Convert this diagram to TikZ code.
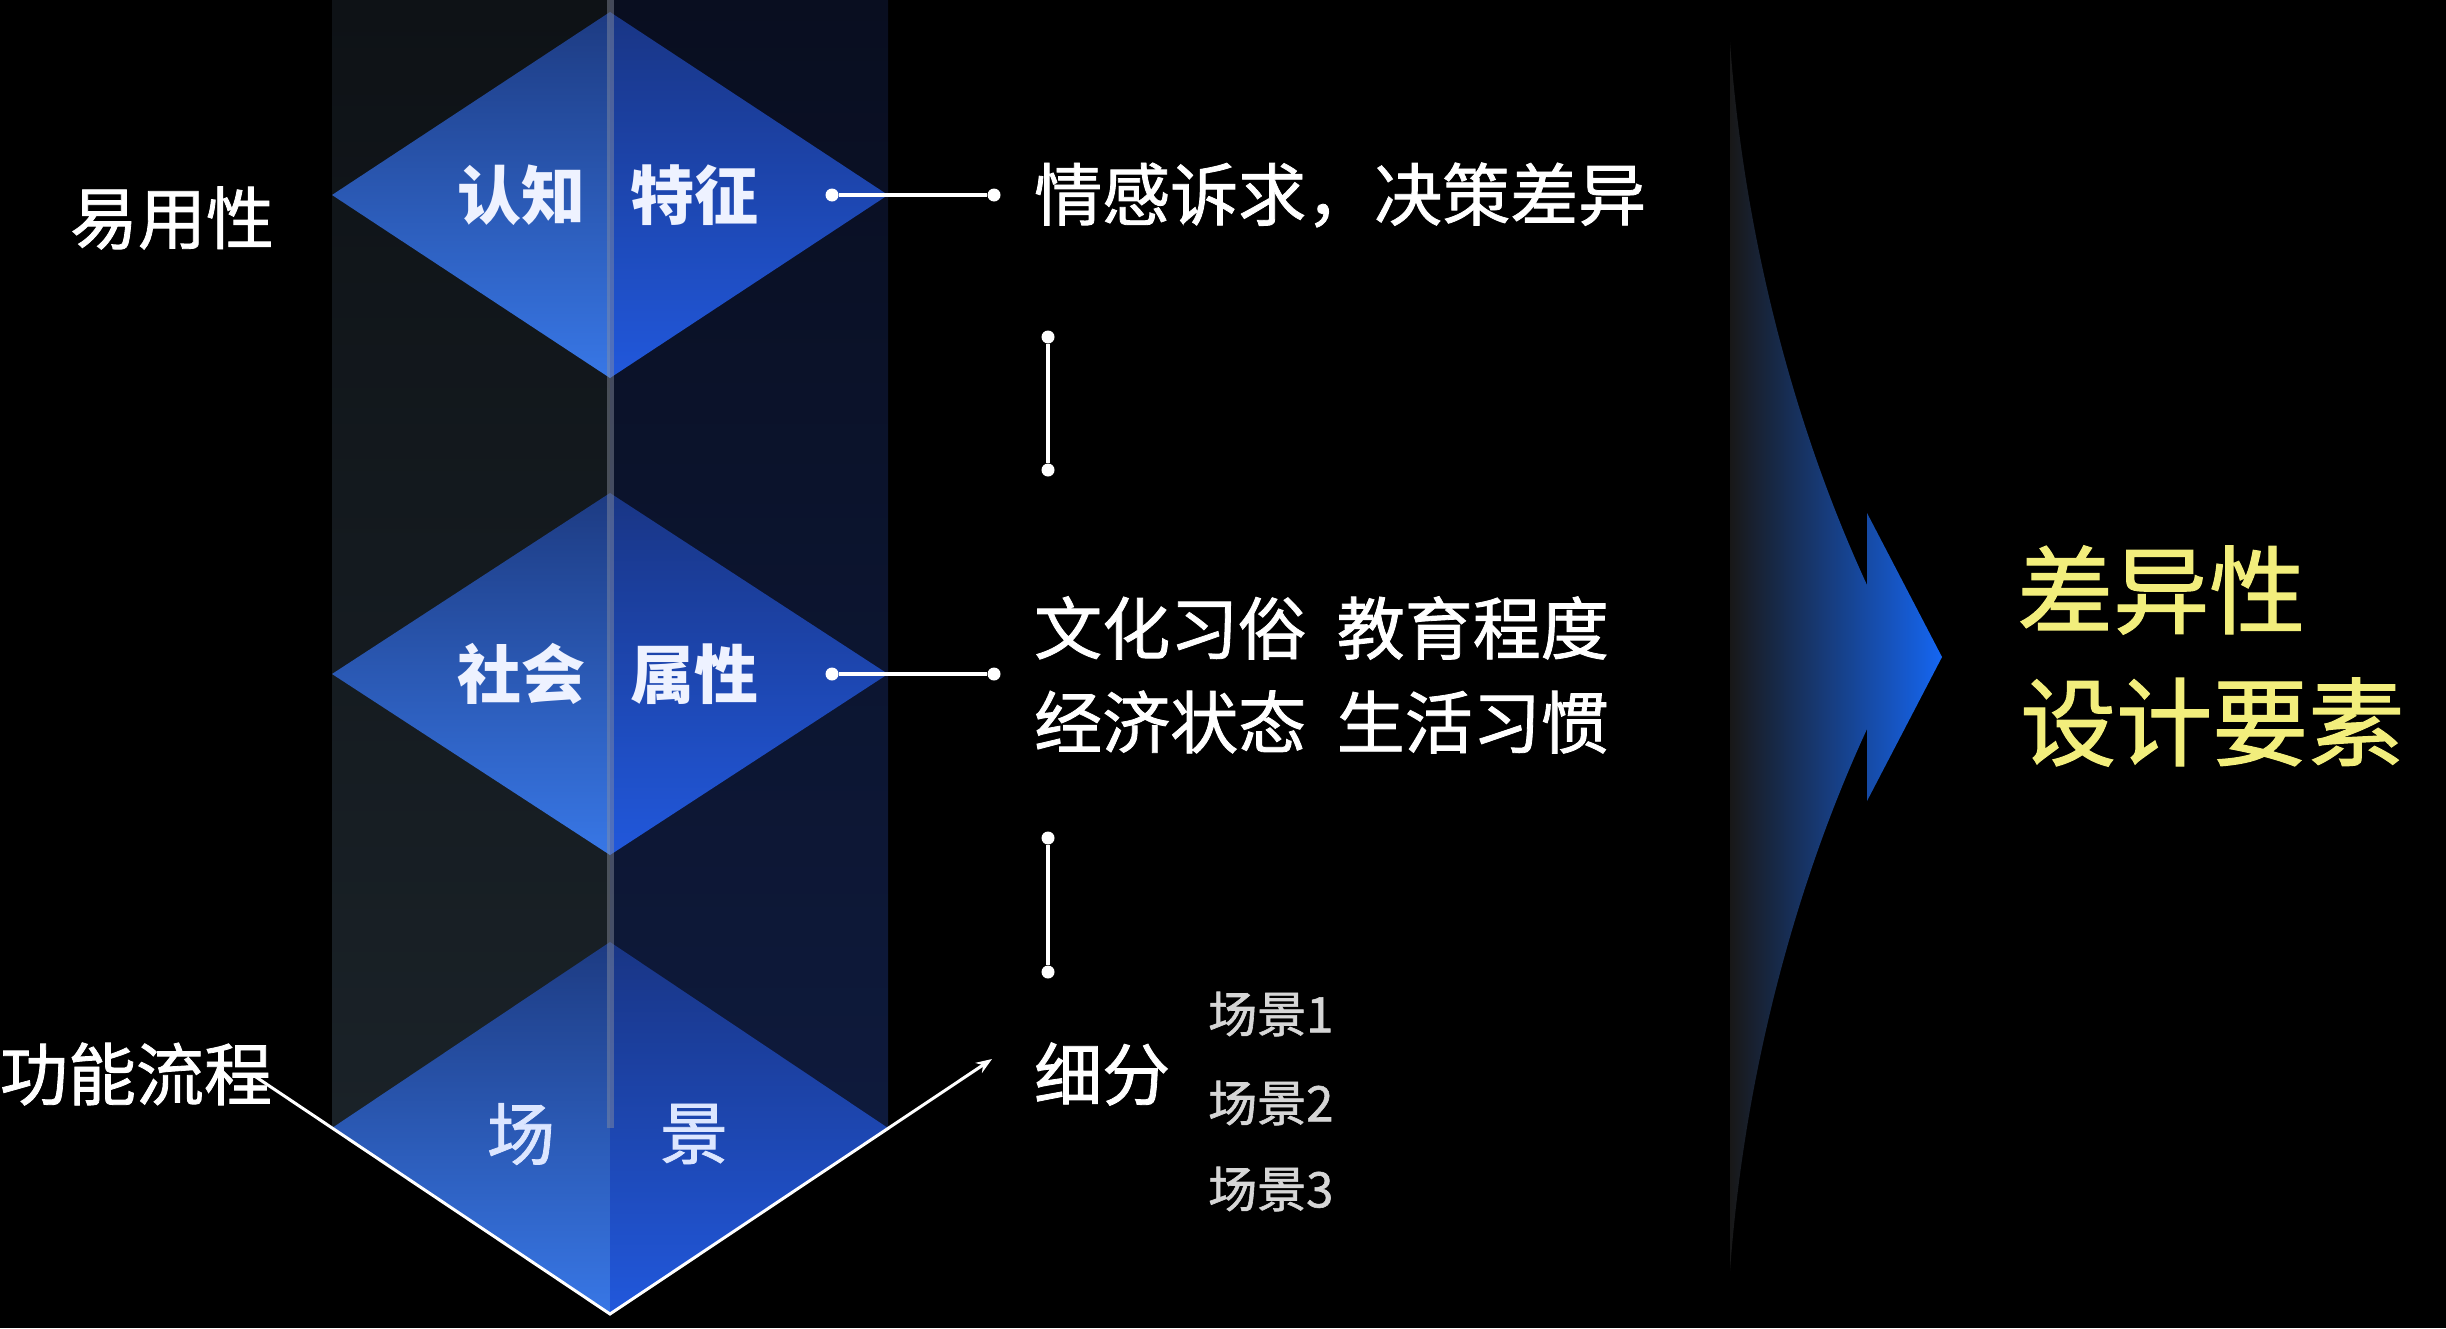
\documentclass[tikz,border=0pt]{standalone}
\usepackage{fontspec}
\newfontfamily\cjk{Noto Sans CJK SC}
\newfontfamily\cjkm[FakeBold=1.2]{Noto Sans CJK SC}
\usetikzlibrary{arrows.meta}
\definecolor{colLtop}{HTML}{0E1216}
\definecolor{colLbot}{HTML}{1A2228}
\definecolor{colRtop}{HTML}{090E20}
\definecolor{colRbot}{HTML}{0E1A3C}
\definecolor{dLtop}{HTML}{1D3B82}
\definecolor{dLbot}{HTML}{3877E6}
\definecolor{dRtop}{HTML}{193585}
\definecolor{dRbot}{HTML}{2158DC}
\definecolor{arrL}{HTML}{181818}
\definecolor{arrM}{HTML}{33497A}
\definecolor{arrR}{HTML}{1566F2}
\definecolor{dtxtcol}{HTML}{EEF2FF}
\definecolor{d3txtcol}{HTML}{DCE6FF}
\definecolor{subcol}{HTML}{D6D6D6}
\definecolor{yel}{HTML}{F2EE7C}
\definecolor{divcol}{HTML}{8A90A0}
\begin{document}
\begin{tikzpicture}[x=1pt,y=-1pt,
  lbl/.style={text=white,inner sep=0pt,font=\cjkm\fontsize{68}{80}\selectfont},
  dtxt/.style={text=dtxtcol,inner sep=0pt,font=\cjk\bfseries\fontsize{64}{72}\selectfont},
  d3txt/.style={text=d3txtcol,inner sep=0pt,font=\cjkm\fontsize{68}{76}\selectfont},
  subtxt/.style={text=subcol,inner sep=0pt,anchor=west,font=\cjkm\fontsize{49}{56}\selectfont},
  ytxt/.style={text=yel,inner sep=0pt,anchor=west,font=\cjkm\fontsize{96}{110}\selectfont},
  conn/.style={white,line width=3.5pt},
  dotc/.style={circle,fill=white,minimum size=13pt,inner sep=0pt},
  flow/.style={white,line width=3pt}
]
\useasboundingbox (0,0) rectangle (2446,1328);
\fill[black] (0,0) rectangle (2446,1328);
% columns
\shade[top color=colLtop,bottom color=colLbot] (332,0) rectangle (610,1128);
\shade[top color=colRtop,bottom color=colRbot] (610,0) rectangle (888,1128);
% diamonds
\foreach \cy/\h in {195/183, 674/181, 1128/186}{
  \shade[top color=dLtop,bottom color=dLbot] (610,\cy-\h) -- (332,\cy) -- (610,\cy+\h) -- cycle;
  \shade[top color=dRtop,bottom color=dRbot] (610,\cy-\h) -- (888,\cy) -- (610,\cy+\h) -- cycle;
}
% divider
\draw[divcol,line width=7pt,opacity=0.45] (610,0) -- (610,1128);
% diamond coordinates
\coordinate (d3L) at (332,1128);
\coordinate (d3B) at (610,1314);
\coordinate (d3R) at (888,1128);
\coordinate (flowS) at (253,1075);
\coordinate (flowE) at (992,1059);
\draw[flow,-{Stealth[length=16pt,width=12pt]}] (flowS) -- (d3B) -- (flowE);
% diamond texts
\node[dtxt] (t1a) at (521,195) {认知};
\node[dtxt] (t1b) at (694,195) {特征};
\node[dtxt] (t2a) at (521,674) {社会};
\node[dtxt] (t2b) at (694,674) {属性};
\node[d3txt] (t3a) at (521,1134) {场};
\node[d3txt] (t3b) at (694,1134) {景};
% left labels
\node[lbl] (usab) at (172,218) {易用性};
\node[lbl] (func) at (136,1074) {功能流程};
% connectors
\node[dotc] (c1a) at (832,195) {};
\node[dotc] (c1b) at (994,195) {};
\draw[conn] (c1a) -- (c1b);
\node[dotc] (v1a) at (1048,337) {};
\node[dotc] (v1b) at (1048,470) {};
\draw[conn] (v1a) -- (v1b);
\node[dotc] (c2a) at (832,674) {};
\node[dotc] (c2b) at (994,674) {};
\draw[conn] (c2a) -- (c2b);
\node[dotc] (v2a) at (1048,838) {};
\node[dotc] (v2b) at (1048,972) {};
\draw[conn] (v2a) -- (v2b);
% right texts
\node[lbl,anchor=west] (r1) at (1034,195) {情感诉求，决策差异};
\node[lbl,anchor=west] (r2) at (1034,628) {文化习俗\hspace{0.45em}教育程度};
\node[lbl,anchor=west] (r3) at (1034,722) {经济状态\hspace{0.45em}生活习惯};
\node[lbl,anchor=west] (r4) at (1034,1074) {细分};
\node[subtxt] (s1) at (1208,1014) {场景1};
\node[subtxt] (s2) at (1208,1103) {场景2};
\node[subtxt] (s3) at (1208,1189) {场景3};
% big arrow
\shade[left color=arrL,middle color=arrM,right color=arrR]
  (1730,42) .. controls (1745,250) and (1800,440) .. (1867,585)
  -- (1867,513) -- (1942,657) -- (1867,801) -- (1867,729)
  .. controls (1800,874) and (1745,1064) .. (1730,1271) -- cycle;
% result text
\node[ytxt] (y1) at (2017,590) {差异性};
\node[ytxt] (y2) at (2020,722) {设计要素};
\end{tikzpicture}
\end{document}
